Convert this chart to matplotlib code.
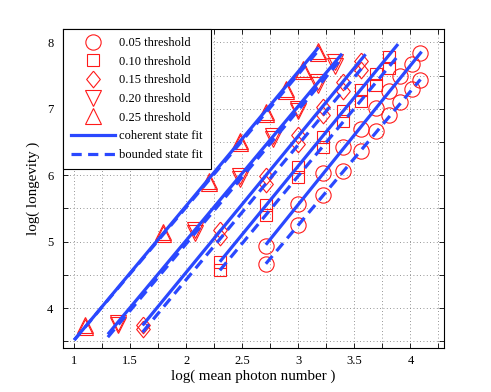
import numpy as np
import matplotlib
matplotlib.use('Agg')
import matplotlib.pyplot as plt
from matplotlib.lines import Line2D
from matplotlib.ticker import FixedLocator, FuncFormatter

plt.rcParams['font.family'] = ['Liberation Serif', 'DejaVu Serif']

# ---- data ----
labels = ['0.05 threshold', '0.10 threshold', '0.15 threshold',
          '0.20 threshold', '0.25 threshold']

x05 = [2.71, 3.00, 3.22, 3.40, 3.56, 3.69, 3.81, 3.91, 4.01, 4.09]
coh05 = [4.94, 5.56, 6.03, 6.42, 6.70, 7.01, 7.26, 7.50, 7.68, 7.84]
bnd05 = [4.67, 5.25, 5.70, 6.06, 6.37, 6.66, 6.90, 7.10, 7.30, 7.44]

x10 = [2.30, 2.71, 3.00, 3.22, 3.40, 3.56, 3.69, 3.81]
coh10 = [4.70, 5.55, 6.13, 6.58, 6.96, 7.28, 7.53, 7.78]
bnd10 = [4.57, 5.40, 5.98, 6.43, 6.81, 7.11, 7.36, 7.61]

x15 = [1.61, 2.30, 2.71, 3.00, 3.22, 3.40, 3.56]
coh15 = [3.74, 5.17, 5.99, 6.60, 7.03, 7.40, 7.72]
bnd15 = [3.68, 5.07, 5.87, 6.47, 6.90, 7.27, 7.58]

x20 = [1.39, 2.08, 2.48, 2.77, 3.00, 3.18, 3.33]
coh20 = [3.77, 5.17, 5.99, 6.59, 7.00, 7.40, 7.70]
bnd20 = [3.74, 5.13, 5.95, 6.54, 6.96, 7.35, 7.65]

x25 = [1.10, 1.79, 2.20, 2.48, 2.71, 2.89, 3.04, 3.18]
coh25 = [3.74, 5.14, 5.91, 6.52, 6.95, 7.30, 7.60, 7.87]
bnd25 = [3.71, 5.12, 5.89, 6.49, 6.92, 7.27, 7.57, 7.84]

# fitted lines (slope, intercept, x range) per threshold
coh_slope = [2.09, 2.06, 2.05, 2.02, 2.02]
coh_icpt = [-0.71, -0.04, 0.44, 0.98, 1.50]
bnd_slope = [2.01, 2.03, 2.03, 2.01, 2.00]
bnd_icpt = [-0.78, -0.10, 0.37, 0.95, 1.52]
fit_x_start = [2.71, 2.30, 1.61, 1.30, 1.00]
coh_x_end = [4.10, 3.89, 3.60, 3.39, 3.18]
bnd_x_end = [4.09, 3.89, 3.60, 3.39, 3.18]

xticks_major = [1, 1.5, 2, 2.5, 3, 3.5, 4]
xticks_minor = [1.25, 1.75, 2.25, 2.75, 3.25, 3.75, 4.25]
yticks_major = [4, 5, 6, 7, 8]
yticks_minor = [3.5, 4.5, 5.5, 6.5, 7.5]

# ---- styling ----
diamond = [(0, 1), (0.82, 0), (0, -1), (-0.82, 0), (0, 1)]
markers = ['o', 's', diamond, 'v', '^']
msizes = [11, 8, 12, 11, 11]
RED = '#ff1a1a'
BLUE = '#2a48ff'

xs = [x05, x10, x15, x20, x25]
cohs = [coh05, coh10, coh15, coh20, coh25]
bnds = [bnd05, bnd10, bnd15, bnd20, bnd25]

fig = plt.figure(figsize=(4.91, 3.92), dpi=100)
ax = fig.add_axes([63/491, 44/392, 381/491, 319/392])

for i in range(5):
    for ys in (cohs[i], bnds[i]):
        ax.plot(xs[i], ys, linestyle='none', marker=markers[i],
                markersize=msizes[i], markerfacecolor='none',
                markeredgecolor=RED, markeredgewidth=0.8, zorder=3)

for i in range(5):
    xc = np.array([fit_x_start[i], coh_x_end[i]])
    ax.plot(xc, coh_slope[i]*xc + coh_icpt[i], color=BLUE, lw=2.3,
            solid_capstyle='butt', zorder=4)
    xb = np.array([fit_x_start[i], bnd_x_end[i]])
    ax.plot(xb, bnd_slope[i]*xb + bnd_icpt[i], color=BLUE, lw=2.3,
            linestyle=(0, (3.2, 2.0)), dash_capstyle='butt', zorder=4)

ax.set_xlim(0.9, 4.3)
ax.set_ylim(3.4, 8.2)
ax.xaxis.set_major_locator(FixedLocator(xticks_major))
ax.xaxis.set_minor_locator(FixedLocator(xticks_minor))
ax.yaxis.set_major_locator(FixedLocator(yticks_major))
ax.yaxis.set_minor_locator(FixedLocator(yticks_minor))
ax.xaxis.set_major_formatter(FuncFormatter(lambda v, p: '%g' % v))
ax.yaxis.set_major_formatter(FuncFormatter(lambda v, p: '%g' % v))
ax.tick_params(which='both', direction='in', top=True, right=True,
               length=3.5, width=0.6, labelsize=9)
ax.tick_params(axis='x', pad=5)
ax.tick_params(axis='y', pad=7)
ax.grid(True, which='both', linestyle=(0, (1, 3)), color='0.45', linewidth=0.6)
for s in ax.spines.values():
    s.set_linewidth(0.8)

ax.set_xlabel('log( mean photon number )', fontsize=10.8, labelpad=2)
ax.set_ylabel('log( longevity )', fontsize=10.8, labelpad=5)

handles = []
for i in range(5):
    handles.append(Line2D([], [], linestyle='none', marker=markers[i],
                          markersize=msizes[i], markerfacecolor='none',
                          markeredgecolor=RED, markeredgewidth=0.8))
handles.append(Line2D([], [], color=BLUE, lw=2.3))
handles.append(Line2D([], [], color=BLUE, lw=2.3, linestyle=(0, (3.2, 2.0))))
leg = ax.legend(handles, labels + ['coherent state fit', 'bounded state fit'],
                loc='upper left', bbox_to_anchor=(0, 1), borderaxespad=0,
                fancybox=False, edgecolor='black', framealpha=1,
                fontsize=9, handlelength=3.5, handletextpad=0.32,
                labelspacing=0.53, borderpad=0.65)
leg.get_frame().set_linewidth(0.8)
leg.set_zorder(10)

fig.savefig('out.png', dpi=100)
